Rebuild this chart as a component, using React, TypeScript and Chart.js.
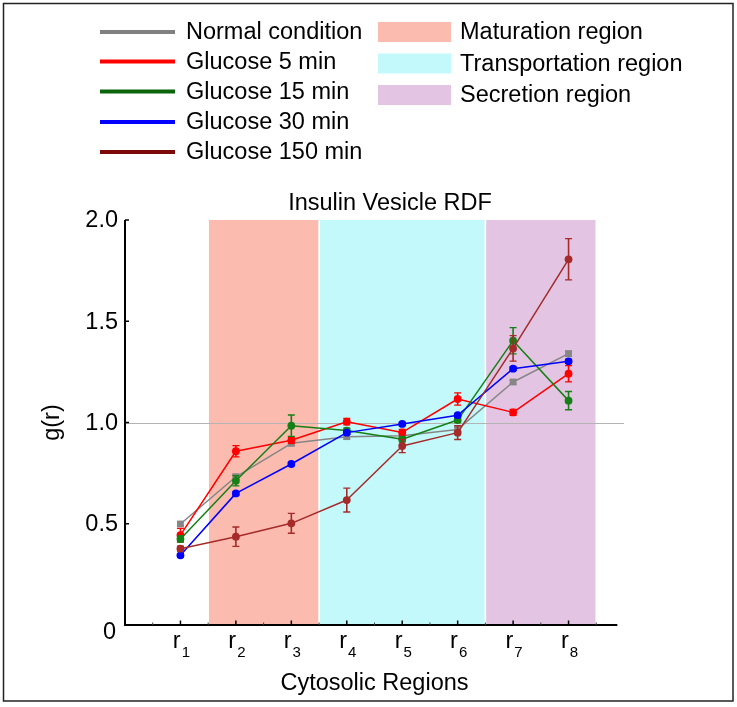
import { useEffect, useRef } from 'react';
import { Chart, registerables } from 'chart.js';

Chart.register(...registerables);

// ---------- data ----------
const categories = ['r1', 'r2', 'r3', 'r4', 'r5', 'r6', 'r7', 'r8'];
const xPositions = [1, 2, 3, 4, 5, 6, 7, 8];

const seriesNames = ['Normal condition', 'Glucose 5 min', 'Glucose 15 min', 'Glucose 30 min', 'Glucose 150 min'];

const normalValues = [0.499, 0.732, 0.897, 0.93, 0.935, 0.966, 1.2, 1.34];
const normalErrors = [0.01, 0.012, 0.01, 0.012, 0.01, 0.01, 0.01, 0.012];

const glucose5Values = [0.444, 0.858, 0.912, 1.004, 0.951, 1.116, 1.05, 1.241];
const glucose5Errors = [0.033, 0.028, 0.015, 0.016, 0.015, 0.03, 0.015, 0.04];

const glucose15Values = [0.425, 0.712, 0.984, 0.96, 0.917, 1.012, 1.404, 1.108];
const glucose15Errors = [0.015, 0.025, 0.053, 0.012, 0.012, 0.012, 0.065, 0.045];

const glucose30Values = [0.344, 0.65, 0.795, 0.95, 0.993, 1.036, 1.266, 1.302];
const glucose30Errors = [0.008, 0.008, 0.008, 0.008, 0.008, 0.008, 0.008, 0.01];

const glucose150Values = [0.377, 0.436, 0.502, 0.617, 0.884, 0.95, 1.366, 1.806];
const glucose150Errors = [0.012, 0.048, 0.049, 0.059, 0.033, 0.034, 0.063, 0.102];

const regionNames = ['Maturation region', 'Transportation region', 'Secretion region'];
const regionStarts = [1.5, 3.5, 6.5];
const regionEnds = [3.5, 6.5, 8.5];

const yTickValues = [0, 0.5, 1, 1.5, 2];
const yTickLabels = ['0', '0.5', '1.0', '1.5', '2.0'];
const xMinorTicks = [0.5, 1.5, 2.5, 3.5, 4.5, 5.5, 6.5, 7.5, 8.5];

const chartTitle = 'Insulin Vesicle RDF';
const xTitle = 'Cytosolic Regions';
const yTitle = 'g(r)';

// ---------- styles ----------
const FONT = '"Liberation Sans", Arial, Helvetica, sans-serif';
const FS = 23.5;
const seriesColors = ['#868686', '#ff0000', '#158015', '#0000ff', '#a52a2a'];
const legendColors = ['#808080', '#ff0000', '#0a640a', '#0000ff', '#7d0a0a'];
const regionColors = ['#fbbbaf', '#c3f9fa', '#e3c4e2'];

const seriesValues = [normalValues, glucose5Values, glucose15Values, glucose30Values, glucose150Values];
const seriesErrors = [normalErrors, glucose5Errors, glucose15Errors, glucose30Errors, glucose150Errors];

const backgroundPlugin = {
  id: 'bgRegions',
  beforeDraw(chart: any) {
    const ctx = chart.ctx;
    ctx.save();
    ctx.fillStyle = '#ffffff';
    ctx.fillRect(0, 0, chart.width, chart.height);
    ctx.restore();
  },
  beforeDatasetsDraw(chart: any) {
    const ctx = chart.ctx;
    const xs = chart.scales.x;
    const ys = chart.scales.y;
    const top = ys.getPixelForValue(2);
    const bottom = ys.getPixelForValue(0);
    ctx.save();
    regionStarts.forEach((s, i) => {
      const x0 = xs.getPixelForValue(s) + 0.8;
      const x1 = xs.getPixelForValue(regionEnds[i]) - 0.8;
      ctx.fillStyle = regionColors[i];
      ctx.fillRect(x0, top, x1 - x0, bottom - top);
    });
    const y1 = Math.round(ys.getPixelForValue(1)) + 0.5;
    ctx.strokeStyle = '#b4b4b4';
    ctx.lineWidth = 1;
    ctx.beginPath();
    ctx.moveTo(chart.chartArea.left, y1);
    ctx.lineTo(chart.chartArea.right, y1);
    ctx.stroke();
    ctx.restore();
  },
};

const errorBarPlugin = {
  id: 'errorBars',
  beforeDatasetDraw(chart: any, args: any) {
    const idx = args.index;
    const ctx = chart.ctx;
    const xs = chart.scales.x;
    const ys = chart.scales.y;
    const vals = seriesValues[idx];
    const errs = seriesErrors[idx];
    ctx.save();
    ctx.strokeStyle = seriesColors[idx];
    vals.forEach((v, i) => {
      const x = xs.getPixelForValue(xPositions[i]);
      const yt = ys.getPixelForValue(v + errs[i]);
      const yb = ys.getPixelForValue(v - errs[i]);
      ctx.lineWidth = 1.6;
      ctx.beginPath();
      ctx.moveTo(x, yt);
      ctx.lineTo(x, yb);
      ctx.stroke();
      ctx.lineWidth = 1.3;
      ctx.beginPath();
      ctx.moveTo(x - 3.5, yt);
      ctx.lineTo(x + 3.5, yt);
      ctx.moveTo(x - 3.5, yb);
      ctx.lineTo(x + 3.5, yb);
      ctx.stroke();
    });
    ctx.restore();
  },
};

const axesPlugin = {
  id: 'axesDecor',
  afterDraw(chart: any) {
    const ctx = chart.ctx;
    const xs = chart.scales.x;
    const ys = chart.scales.y;
    const left = chart.chartArea.left;
    const y0 = ys.getPixelForValue(0);
    const yTop = ys.getPixelForValue(2);
    const xEnd = xs.getPixelForValue(8.88);
    ctx.save();
    ctx.strokeStyle = '#000';
    ctx.lineWidth = 2;
    ctx.beginPath();
    ctx.moveTo(left, yTop);
    ctx.lineTo(left, y0 + 1);
    ctx.stroke();
    ctx.beginPath();
    ctx.moveTo(left - 1, y0);
    ctx.lineTo(xEnd, y0);
    ctx.stroke();
    ctx.lineWidth = 1.5;
    yTickValues.forEach((v) => {
      const y = ys.getPixelForValue(v);
      ctx.beginPath();
      ctx.moveTo(left, y);
      ctx.lineTo(left + 4, y);
      ctx.stroke();
    });
    xPositions.forEach((p) => {
      const x = xs.getPixelForValue(p);
      ctx.beginPath();
      ctx.moveTo(x, y0);
      ctx.lineTo(x, y0 - 4.5);
      ctx.stroke();
    });
    ctx.lineWidth = 1;
    ctx.strokeStyle = '#444';
    xMinorTicks.forEach((p) => {
      const x = xs.getPixelForValue(p);
      ctx.beginPath();
      ctx.moveTo(x, y0);
      ctx.lineTo(x, y0 - 2.5);
      ctx.stroke();
    });

    ctx.fillStyle = '#000';
    ctx.font = `${FS}px ${FONT}`;
    ctx.textAlign = 'right';
    ctx.textBaseline = 'middle';
    yTickValues.forEach((v, i) => {
      const y = ys.getPixelForValue(v);
      if (v === 0) {
        ctx.fillText(yTickLabels[i], left - 9, y + 8);
      } else {
        ctx.fillText(yTickLabels[i], left - 7, y + 1);
      }
    });

    categories.forEach((c, i) => {
      const x = xs.getPixelForValue(xPositions[i]);
      const base = c.charAt(0);
      const sub = c.slice(1);
      ctx.font = `${FS}px ${FONT}`;
      const wb = ctx.measureText(base).width;
      ctx.font = `15px ${FONT}`;
      const ws = ctx.measureText(sub).width;
      const start = x + 1 - (wb + ws + 1) / 2;
      ctx.textAlign = 'left';
      ctx.textBaseline = 'alphabetic';
      ctx.font = `${FS}px ${FONT}`;
      ctx.fillText(base, start, 648);
      ctx.font = `15px ${FONT}`;
      ctx.fillText(sub, start + wb + 1, 657);
    });

    ctx.font = `${FS}px ${FONT}`;
    ctx.textAlign = 'center';
    ctx.textBaseline = 'alphabetic';
    ctx.fillText(xTitle, (left + chart.chartArea.right) / 2, 690);
    ctx.save();
    ctx.translate(59, (yTop + y0) / 2);
    ctx.rotate(-Math.PI / 2);
    ctx.textBaseline = 'alphabetic';
    ctx.fillText(yTitle, 0, 0);
    ctx.restore();

    ctx.textAlign = 'center';
    ctx.fillText(chartTitle, 390, 210);

    const rowsL = [32, 61.5, 91.5, 122, 152];
    seriesNames.forEach((n, i) => {
      ctx.strokeStyle = legendColors[i];
      ctx.lineWidth = 4;
      ctx.beginPath();
      ctx.moveTo(100, rowsL[i]);
      ctx.lineTo(175, rowsL[i]);
      ctx.stroke();
      ctx.fillStyle = '#000';
      ctx.textAlign = 'left';
      ctx.textBaseline = 'middle';
      ctx.font = `${FS}px ${FONT}`;
      ctx.fillText(n, 186, rowsL[i] + 1);
    });
    const rowsR = [32, 63.5, 95];
    regionNames.forEach((n, i) => {
      ctx.fillStyle = regionColors[i];
      ctx.fillRect(378, rowsR[i] - 10, 73, 20);
      ctx.fillStyle = '#000';
      ctx.textAlign = 'left';
      ctx.textBaseline = 'middle';
      ctx.fillText(n, 460, rowsR[i] + 1);
    });

    ctx.strokeStyle = '#222';
    ctx.lineWidth = 1.5;
    ctx.strokeRect(3.5, 3.5, 729.5, 697.5);
    ctx.restore();
  },
};

export default function App() {
  const canvasRef = useRef<HTMLCanvasElement | null>(null);

  useEffect(() => {
    document.body.style.margin = '0';
    const canvas = canvasRef.current;
    if (!canvas) return;
    const datasets = seriesNames.map((name, i) => {
      const n = seriesValues[i].length;
      const style = i === 0 ? 'rect' : 'circle';
      const radius = i === 0 ? 4.8 : 3.9;
      return {
        label: name,
        data: seriesValues[i].map((v, j) => ({ x: xPositions[j], y: v })),
        borderColor: seriesColors[i],
        backgroundColor: seriesColors[i],
        pointBackgroundColor: new Array(n).fill(seriesColors[i]),
        pointBorderColor: new Array(n).fill(seriesColors[i]),
        pointBorderWidth: new Array(n).fill(0),
        pointStyle: new Array(n).fill(style),
        pointRadius: new Array(n).fill(radius),
        borderWidth: 1.5,
        tension: 0,
        fill: false,
        order: [5, 4, 3, 2, 1][i],
      };
    });
    const chart = new Chart(canvas, {
      type: 'line',
      data: { datasets },
      options: {
        animation: false,
        responsive: false,
        maintainAspectRatio: false,
        devicePixelRatio: 1,
        layout: { padding: { left: 125, right: 113, top: 220, bottom: 82 } },
        plugins: {
          legend: { display: false },
          title: { display: false },
          tooltip: { enabled: false },
        },
        scales: {
          x: { type: 'linear', min: 0, max: 9, display: false },
          y: { type: 'linear', min: 0, max: 2, display: false },
        },
        elements: { line: { borderJoinStyle: 'round' } },
      },
      plugins: [backgroundPlugin, errorBarPlugin, axesPlugin],
    } as any);
    return () => chart.destroy();
  }, []);

  return (
    <div style={{ width: 737, height: 707, position: 'relative' }}>
      <canvas ref={canvasRef} width={737} height={707} style={{ display: 'block' }} />
    </div>
  );
}
